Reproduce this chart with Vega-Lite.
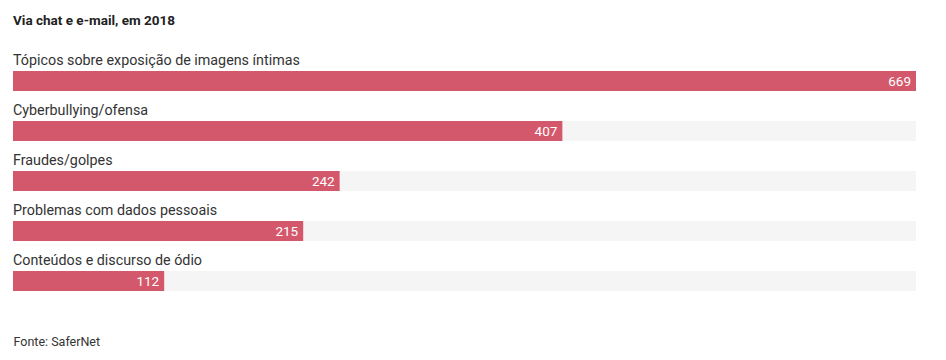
{
  "$schema": "https://vega.github.io/schema/vega-lite/v6.json",
  "width": 903,
  "height": 290,
  "autosize": {"type": "none"},
  "padding": {"left": 13, "top": 40, "right": 30, "bottom": 30},
  "background": "white",
  "config": {"view": {"stroke": null}, "font": "Roboto"},
  "title": {
    "text": "Via chat e e-mail, em 2018",
    "anchor": "start",
    "baseline": "alphabetic",
    "offset": 2,
    "fontSize": 13.5,
    "fontWeight": "bold",
    "color": "#222222",
    "font": "Roboto"
  },
  "data": {
    "values": [
      {"categoria": "Tópicos sobre exposição de imagens íntimas", "valor": 669},
      {"categoria": "Cyberbullying/ofensa", "valor": 407},
      {"categoria": "Fraudes/golpes", "valor": 242},
      {"categoria": "Problemas com dados pessoais", "valor": 215},
      {"categoria": "Conteúdos e discurso de ódio", "valor": 112}
    ]
  },
  "encoding": {
    "y": {
      "field": "categoria",
      "type": "nominal",
      "sort": null,
      "scale": {"range": [16, 266], "paddingInner": 0, "paddingOuter": 0},
      "axis": null
    }
  },
  "layer": [
    {
      "mark": {"type": "bar", "height": 20, "color": "#f5f5f5"},
      "encoding": {
        "x": {"datum": 0, "type": "quantitative", "scale": {"domain": [0, 669], "nice": false}, "axis": {"title": "Fonte: SaferNet", "domain": false, "ticks": false, "labels": false, "grid": false, "titleAnchor": "start", "titleAlign": "left", "titleX": 0, "titleY": 15, "titleBaseline": "alphabetic", "titleFontWeight": "normal", "titleFontSize": 12.5, "titleColor": "#333333", "titleFont": "Roboto"}},
        "x2": {"datum": 669}
      }
    },
    {
      "mark": {"type": "bar", "height": 20, "color": "#d4586c"},
      "encoding": {
        "x": {"field": "valor", "type": "quantitative"}
      }
    },
    {
      "mark": {"type": "text", "align": "left", "baseline": "alphabetic", "yOffset": -16, "fontSize": 14.3, "color": "#333333"},
      "encoding": {
        "x": {"datum": 0, "type": "quantitative"},
        "text": {"field": "categoria"}
      }
    },
    {
      "mark": {"type": "text", "align": "right", "baseline": "middle", "dx": -5, "yOffset": 1, "fontSize": 13.5, "color": "white"},
      "encoding": {
        "x": {"field": "valor", "type": "quantitative"},
        "text": {"field": "valor", "type": "quantitative"}
      }
    }
  ]
}
